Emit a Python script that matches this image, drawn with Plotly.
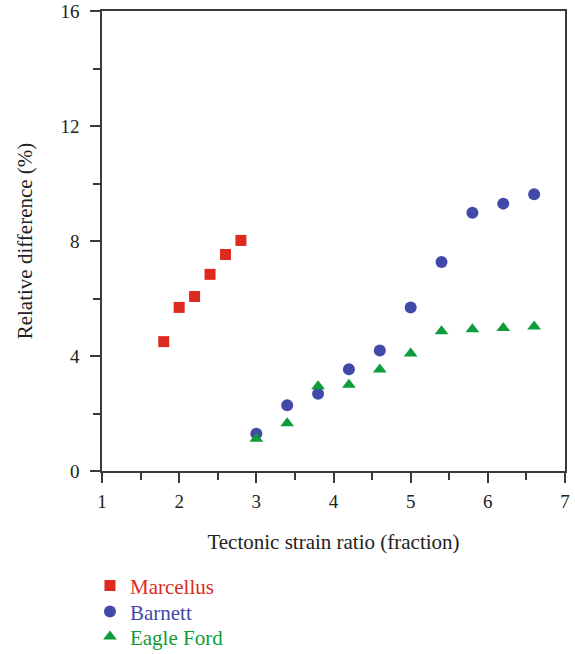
import plotly.graph_objects as go

# Relative difference vs tectonic strain ratio for three shale plays
marcellus_x = [1.8, 2.0, 2.2, 2.4, 2.6, 2.8]
marcellus_y = [4.5, 5.69, 6.07, 6.84, 7.53, 8.02]

barnett_x = [3.0, 3.4, 3.8, 4.2, 4.6, 5.0, 5.4, 5.8, 6.2, 6.6]
barnett_y = [1.3, 2.29, 2.69, 3.54, 4.19, 5.69, 7.27, 8.98, 9.3, 9.63]

eagle_x = [3.0, 3.4, 3.8, 4.2, 4.6, 5.0, 5.4, 5.8, 6.2, 6.6]
eagle_y = [1.12, 1.66, 2.95, 3.0, 3.53, 4.09, 4.86, 4.93, 4.97, 5.03]

RED = "#DE2A1E"
BLUE = "#4349A9"
GREEN = "#0E9B3A"
AXIS = "#3a3a3a"
TEXT = "#222"
FONT = "Liberation Serif"

fig = go.Figure()
series = [
    ("Marcellus", marcellus_x, marcellus_y, RED, "square", 11, "legend"),
    ("Barnett", barnett_x, barnett_y, BLUE, "circle", 12, "legend2"),
    ("Eagle Ford", eagle_x, eagle_y, GREEN, "triangle-up", 12, "legend3"),
]
for name, xs, ys, color, symbol, size, leg in series:
    fig.add_trace(go.Scatter(
        x=xs, y=ys, mode="markers",
        name=f"<span style='color:{color}'>{name}</span>",
        legend=leg,
        marker=dict(color=color, symbol=symbol, size=size, line=dict(width=0)),
    ))

axis_common = dict(
    showline=True, linecolor=AXIS, linewidth=1.5, mirror=True,
    ticks="outside", ticklen=10, tickwidth=1.5, tickcolor=AXIS,
    showgrid=False, zeroline=False, automargin=False,
    tickfont=dict(family=FONT, size=19, color=TEXT),
)


def legend_box(ypos):
    return dict(
        x=-0.026, xanchor="left", y=ypos, yanchor="top",
        font=dict(family=FONT, size=21),
        bgcolor="rgba(0,0,0,0)",
    )


fig.update_layout(
    width=575, height=654,
    margin=dict(l=102, r=10, t=11, b=183, autoexpand=False),
    paper_bgcolor="white", plot_bgcolor="white",
    font=dict(family=FONT, size=19, color=TEXT),
    xaxis=dict(
        range=[1, 7], dtick=1, tick0=1,
        minor=dict(dtick=0.5, ticklen=7, ticks="outside", tickcolor=AXIS, tickwidth=1.5),
        title=dict(text="Tectonic strain ratio (fraction)", standoff=24,
                   font=dict(family=FONT, size=21, color=TEXT)),
        ticklabelstandoff=2,
        **axis_common,
    ),
    yaxis=dict(
        range=[0, 16], dtick=4, tick0=0,
        minor=dict(dtick=2, ticklen=7, ticks="outside", tickcolor=AXIS, tickwidth=1.5),
        title=dict(text="Relative difference (%)", standoff=22,
                   font=dict(family=FONT, size=21, color=TEXT)),
        ticklabelstandoff=7,
        **axis_common,
    ),
    showlegend=True,
    legend=legend_box(-0.205),
    legend2=legend_box(-0.2615),
    legend3=legend_box(-0.316),
)

fig.write_html("out.html")
